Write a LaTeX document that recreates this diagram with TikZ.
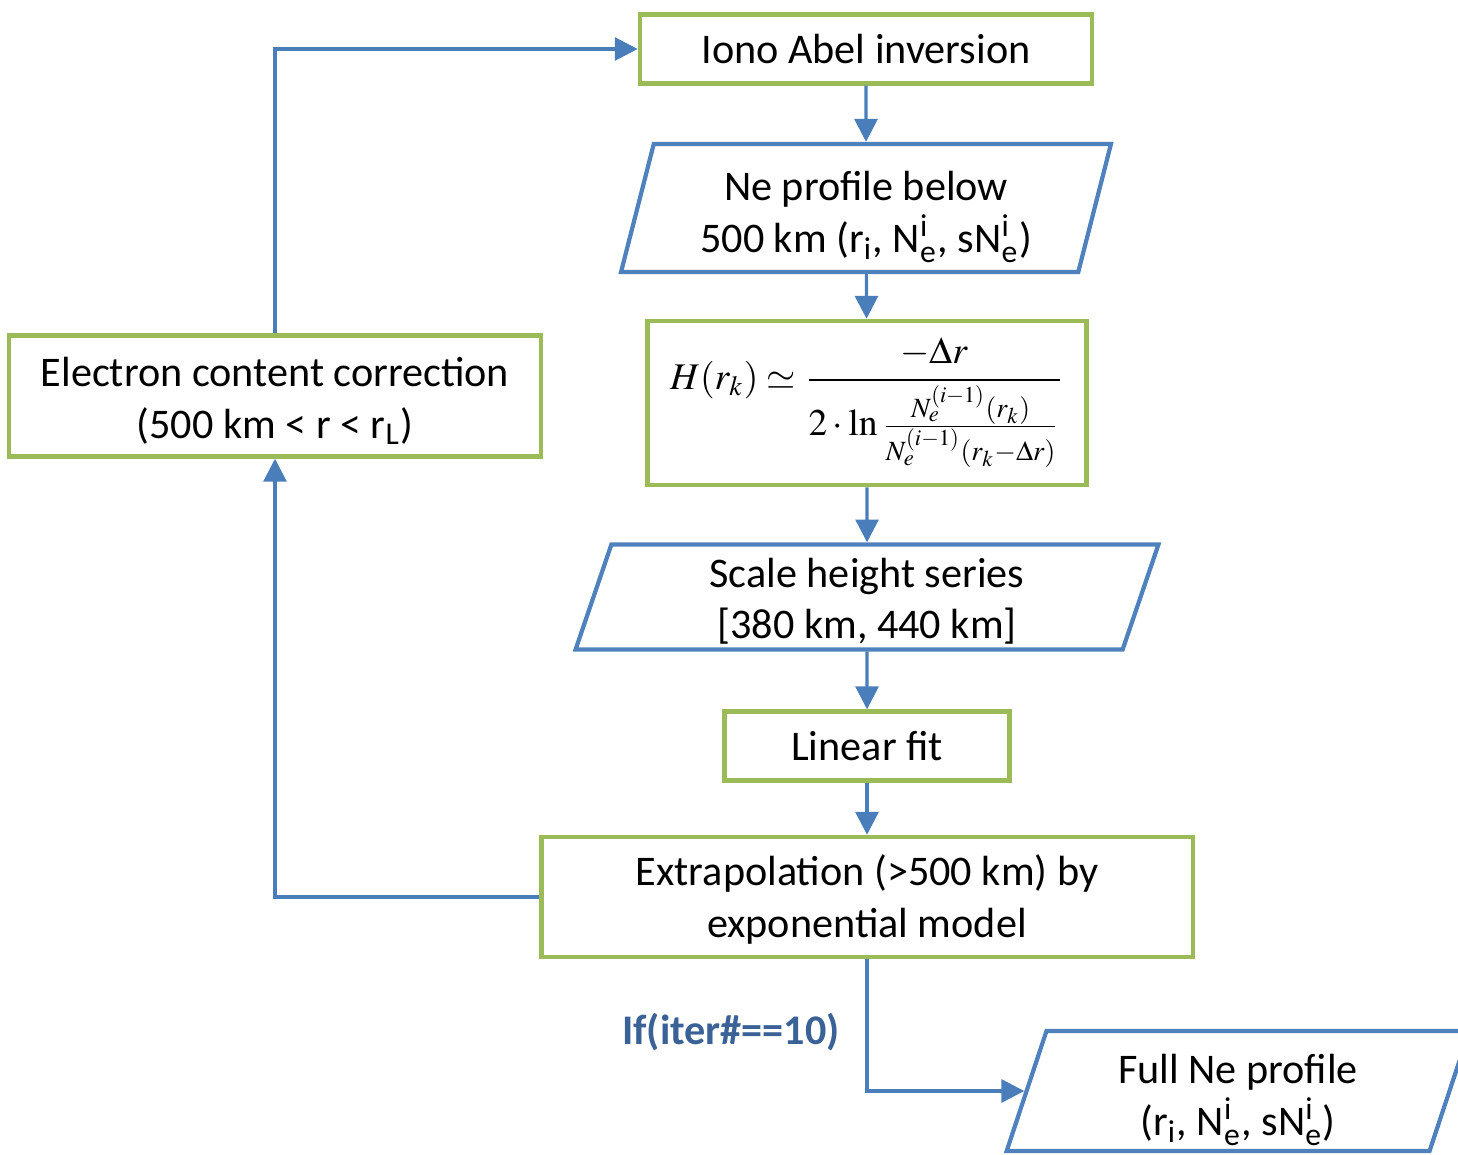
\documentclass[tikz,border=0pt]{standalone}
\usepackage{amsmath}
\usepackage{mathptmx}
\usepackage[no-math]{fontspec}
\setmainfont{Carlito}
\usetikzlibrary{positioning,shapes.geometric,arrows.meta}
\definecolor{boxgreen}{HTML}{9BBB59}
\definecolor{boxblue}{HTML}{4F81BD}
\definecolor{linkblue}{HTML}{4A7EBB}
\definecolor{labelblue}{HTML}{3A6296}
\tikzset{>={Triangle[length=6.5pt,width=6.5pt]}}
\newcommand{\Nei}{N$_{\text{e}}^{\text{i}}$}
\newcommand{\ri}{r$_{\text{i}}$}
\newcommand{\lift}[1]{\rule{0pt}{#1}}

\begin{document}
\begin{tikzpicture}[x=.01cm,y=-.01cm,
  every node/.style={font=\fontsize{12}{14.6}\selectfont},
  proc/.style={draw=boxgreen,line width=1.25pt,align=center},
  data/.style={draw=boxblue,line width=1.2pt,trapezium,trapezium left angle=76,trapezium right angle=104,trapezium stretches=true,inner ysep=0pt,align=center},
  link/.style={draw=linkblue,line width=.9pt,->}]
\useasboundingbox (0,0) rectangle (1458,1154);
\node[proc,minimum width=4.52cm,minimum height=.69cm] (iono) at (866,49) {Iono Abel inversion};
\node[data,minimum width=4.9cm,minimum height=1.28cm] (below) at (866,208) {\lift{13.6pt}Ne profile below\\500 km (\ri, \Nei, s\Nei)};
\node[proc,minimum width=4.39cm,minimum height=1.64cm,inner sep=0pt] (hform) at (867,403) {\fontsize{10.7}{13}\selectfont$\displaystyle H(r_k)\simeq\frac{-\Delta r}{2\cdot\ln\frac{N_e^{(i-1)}(r_k)}{N_e^{(i-1)}(r_k-\Delta r)}}$};
\node[data,minimum width=5.83cm,minimum height=1.05cm] (scale) at (867,597) {\lift{10.8pt}Scale height series\\{}[380 km, 440 km]};
\node[proc,minimum width=2.85cm,minimum height=.69cm] (linfit) at (867,746) {Linear fit};
\node[proc,minimum width=6.51cm,minimum height=1.2cm] (extrap) at (867,897) {\lift{10.2pt}Extrapolation (>500 km) by\\exponential model};
\node[proc,minimum width=5.32cm,minimum height=1.21cm] (ecorr) at (275,396) {\lift{11.2pt}Electron content correction\\(500 km < r < r$_{\text{L}}$)};
\node[data,minimum width=4.65cm,minimum height=1.2cm] (full) at (1238,1091) {\lift{13.6pt}Full Ne profile\\(\ri, \Nei, s\Nei)};
\node[text=labelblue,font=\fontsize{12}{14.6}\selectfont\bfseries] (iter) at (731,1032) {If(iter\#==10)};
% main chain
\draw[link] (iono) -- (below);
\draw[link] (below) -- (hform);
\draw[link] (hform) -- (scale);
\draw[link] (scale) -- (linfit);
\draw[link] (linfit) -- (extrap);
% feedback loop
\draw[link] (extrap.west) -| (ecorr.south);
\draw[link] (ecorr.north) |- (iono.west);
\draw[link] (extrap.south) |- (full.west);
\end{tikzpicture}
\end{document}
